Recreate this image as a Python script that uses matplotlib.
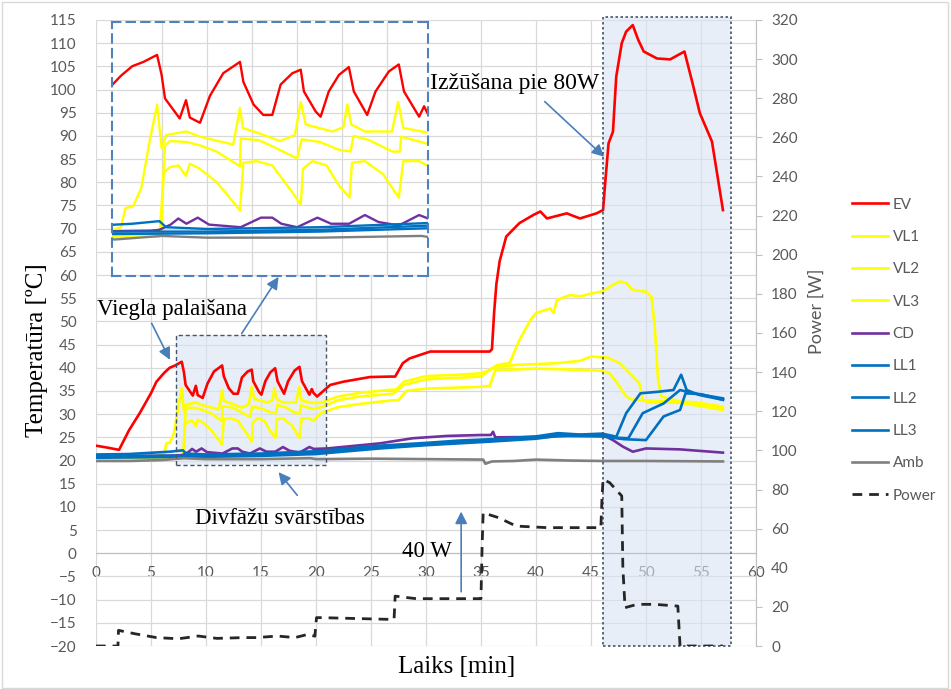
import matplotlib
matplotlib.use("Agg")
import matplotlib.pyplot as plt
from matplotlib.patches import Rectangle

# ---- values ----
ev_t = [0, 1, 2.1, 3, 4, 5, 5.5, 6.2, 6.7, 7.2, 7.8, 8.0, 8.15, 8.8, 9.08, 9.25, 9.7, 10.14, 10.73,
        11.47, 11.62, 12.07, 12.5, 12.9, 13.27, 13.79, 14.16, 14.3, 14.82, 15.04, 15.4, 15.85, 16.29,
        16.51, 17.1, 17.47, 18.06, 18.5, 18.73, 19.4, 19.62, 19.77, 20.1, 21.3, 22.5, 24.9, 26.7, 27.2,
        27.9, 28.5, 29.5, 30.4, 31.9, 35.8, 36.0, 36.2, 36.4, 36.7, 37.3, 38.5, 39.8, 40.4, 41.0, 42.8,
        44.0, 45.5, 46.1, 46.3, 46.6, 47.0, 47.3, 47.8, 48.2, 48.8, 49.3, 49.8, 51.0, 52.2, 53.5, 54.2,
        54.9, 56.0, 57.0]
ev_v = [23.2, 22.8, 22.3, 26.5, 30.3, 34.5, 37.0, 38.9, 40.0, 40.5, 41.3, 39.0, 36.3, 34.0, 36.1, 34.1,
        33.5, 36.6, 39.2, 40.5, 38.2, 35.6, 34.4, 34.4, 37.9, 39.2, 39.6, 37.1, 34.8, 34.2, 37.1, 39.0,
        39.9, 37.1, 34.4, 37.1, 39.4, 40.2, 37.1, 34.2, 35.4, 34.6, 33.8, 36.3, 37.0, 38.0, 38.1, 38.1,
        41.0, 42.0, 42.8, 43.5, 43.5, 43.5, 44.0, 52.0, 58.0, 63.0, 68.3, 71.2, 73.0, 73.7, 72.2, 73.3,
        72.2, 73.3, 74.0, 80.0, 88.4, 90.9, 102.8, 110.0, 112.5, 113.9, 110.7, 108.2, 106.7, 106.5,
        108.2, 101.7, 94.9, 88.8, 74.0]

vl1_t = [0, 3, 5.5, 6.2, 6.4, 6.74, 7.1, 7.47, 7.8, 8.0, 8.2, 9.1, 9.7, 11.17, 11.47, 11.6, 12.3, 13.25,
         13.9, 14.16, 14.38, 15.56, 16.05, 16.22, 16.4, 17.0, 18.2, 18.47, 18.7, 19.74, 20.5, 22, 24,
         26.5, 27.3, 28, 30, 33, 35, 35.8, 36.5, 37.0, 37.6, 38.5, 39.5, 40.0, 41.3, 41.6, 41.9, 43.1,
         44.0, 45.2, 46.1, 47.0, 47.6, 48.2, 48.8, 50.0, 50.5, 50.8, 51.1, 51.4, 53.1, 54.7, 57.0]
vl1_v = [20.5, 20.6, 20.9, 21.5, 23.7, 23.9, 26.0, 31.4, 35.6, 30.6, 32.1, 32.5, 31.9, 31.0, 35.2, 32.9,
         32.3, 31.4, 32.1, 35.9, 33.3, 32.5, 33.0, 35.6, 33.3, 32.5, 32.5, 35.9, 32.9, 32.4, 32.5, 33.8,
         34.6, 35.2, 35.3, 37.0, 38.2, 38.5, 38.8, 39.5, 40.6, 40.8, 41.0, 46.0, 50.3, 51.8, 52.8, 51.8,
         54.6, 55.7, 55.4, 56.1, 56.5, 57.9, 58.6, 58.3, 56.8, 56.4, 55.3, 48.9, 37.4, 33.8, 32.7, 32.5,
         31.6]

vl2_t = [0, 4, 7.9, 8.0, 8.15, 8.37, 9.1, 9.7, 10.43, 11.47, 11.5, 12.3, 12.9, 14.0, 14.2, 15.0, 15.85,
         16.36, 16.5, 17.2, 18.2, 18.55, 18.6, 19.2, 19.74, 20.5, 22, 24, 27, 28, 30, 35, 36, 38, 42,
         44, 45, 46.5, 47.6, 48.8, 49.4, 49.7, 50.2, 53, 57]
vl2_v = [20.3, 20.4, 20.6, 24.0, 30.9, 31.4, 31.3, 30.9, 30.2, 28.5, 31.7, 31.5, 30.8, 29.4, 31.6, 31.3,
         30.4, 30.2, 32.0, 31.5, 30.2, 30.2, 31.9, 31.5, 31.1, 31.5, 33.0, 33.8, 34.4, 36.3, 37.5, 38.1,
         39.9, 40.6, 41.0, 41.5, 42.4, 42.2, 41.0, 38.1, 36.7, 33.1, 32.5, 32.5, 30.9]

vl3_t = [0, 4, 7.9, 8.0, 8.09, 8.37, 8.74, 9.08, 9.25, 9.7, 10.43, 11.17, 11.47, 11.62, 12.2, 12.9, 13.79,
         14.16, 14.26, 14.67, 15.3, 15.85, 16.32, 16.43, 17.0, 17.8, 18.5, 18.7, 19.4, 19.74, 20.5, 22,
         24, 27, 27.5, 28.2, 30, 35, 35.8, 36.3, 40, 45, 46.1, 46.7, 47.3, 48.2, 48.8, 53, 57]
vl3_v = [20.2, 20.3, 20.4, 21.5, 27.8, 28.4, 28.6, 27.4, 28.8, 28.2, 26.7, 24.4, 23.4, 28.9, 29.1, 28.6,
         25.5, 24.1, 28.2, 29.1, 28.6, 26.3, 24.9, 28.9, 29.1, 27.6, 24.9, 29.1, 29.1, 28.6, 30.3, 31.5,
         32.2, 33.0, 33.0, 35.0, 35.5, 35.9, 36.1, 39.5, 39.8, 39.5, 39.3, 38.8, 37.0, 33.8, 33.1, 32.6,
         31.2]

cd_t = [0, 5, 7.5, 7.9, 8.4, 8.74, 9.1, 9.6, 10.1, 11.5, 12.4, 12.9, 13.3, 14.0, 14.9, 15.5, 16.3, 17.0,
        17.6, 18.5, 19.4, 19.8, 21, 25.8, 28.8, 31.9, 35.0, 35.9, 36.1, 36.3, 41, 44, 46.1, 47.0, 47.9,
        48.8, 50.0, 53.1, 57]
cd_v = [21.0, 21.0, 21.1, 21.2, 21.8, 22.5, 21.9, 22.6, 21.8, 21.5, 22.6, 22.6, 21.9, 21.5, 22.6, 21.9,
        21.9, 22.9, 22.1, 21.7, 22.9, 22.5, 22.6, 23.7, 24.8, 25.3, 25.5, 25.5, 26.2, 25.0, 25.1, 25.5,
        25.5, 24.4, 23.0, 21.9, 22.6, 22.4, 21.7]

ll1_t = [0, 3, 6.7, 7.9, 8.2, 10, 15, 20, 25.8, 30, 33, 36, 40, 42, 44, 46, 47.0, 47.3, 48.2, 49.5, 51.0,
         52.5, 53.2, 53.7, 54.9, 57]
ll1_v = [21.3, 21.4, 21.9, 22.2, 21.5, 21.3, 21.5, 22.0, 23.2, 23.8, 24.3, 24.6, 25.2, 25.9, 25.6, 25.8,
         25.3, 25.1, 30.2, 34.5, 34.8, 35.2, 38.5, 35.2, 34.1, 33.1]

ll2_t = [0, 5, 10, 15, 20, 25.8, 30, 36, 40, 42, 46, 47.5, 48.4, 49.7, 51.6, 53.1, 54.3, 57]
ll2_v = [20.9, 21.0, 21.0, 21.2, 21.7, 22.9, 23.6, 24.3, 25.0, 25.5, 25.3, 24.9, 24.8, 30.2, 32.3, 35.2,
         34.5, 33.4]

ll3_t = [0, 5, 10, 15, 20, 25.8, 30, 36, 40, 42, 46, 48, 50.0, 51.6, 53.1, 53.6, 55, 57]
ll3_v = [20.6, 20.7, 20.8, 21.0, 21.4, 22.6, 23.3, 24.1, 24.7, 25.3, 25.2, 24.6, 24.4, 29.5, 30.9, 34.5,
         34.3, 33.1]

amb_t = [0, 3, 6, 8, 10, 15, 19.5, 20, 25, 30, 35.2, 35.4, 36, 38, 40, 43, 46, 50, 57]
amb_v = [19.9, 19.9, 20.1, 20.5, 20.3, 20.3, 20.5, 20.3, 20.4, 20.3, 20.2, 19.3, 19.8, 19.9, 20.2, 20.0,
         19.9, 19.9, 19.8]

pw_t = [0, 2.0, 2.05, 3.5, 5.5, 7.5, 9.3, 11, 13.4, 14.6, 16.5, 18.1, 19.3, 19.9, 20.05, 20.5, 26.8,
        27.1, 27.2, 29.1, 35.0, 35.1, 35.2, 36.6, 38.2, 41, 45.9, 46.0, 46.1, 46.7, 47.8, 47.9, 48.1,
        49.2, 50.8, 52.9, 53.0, 53.1, 57.0]
pw_v = [0, 0, 8.0, 6.3, 4.3, 3.7, 5.1, 3.9, 4.3, 4.3, 5.1, 4.3, 6.0, 5.0, 14.5, 14.5, 13.6, 13.6, 25.5,
        24.2, 24.2, 50, 68.1, 65.6, 61.3, 60.5, 60.5, 75, 85.2, 83.5, 76.7, 40, 19.6, 21.3, 21.3, 20.4,
        10, 0, 0]

temp_series = [
    ("EV", ev_t, ev_v, "#ff0000"),
    ("VL1", vl1_t, vl1_v, "#ffff00"),
    ("VL2", vl2_t, vl2_v, "#ffff00"),
    ("VL3", vl3_t, vl3_v, "#ffff00"),
    ("CD", cd_t, cd_v, "#7030a0"),
    ("LL1", ll1_t, ll1_v, "#0070c0"),
    ("LL2", ll2_t, ll2_v, "#0070c0"),
    ("LL3", ll3_t, ll3_v, "#0070c0"),
    ("Amb", amb_t, amb_v, "#808080"),
]

plt.rcParams['font.family'] = ['Lato', 'DejaVu Sans']
SERIF = ['Liberation Serif', 'DejaVu Serif']
GRID = '#d9d9d9'
TXT = '#595959'
ARROW = '#4a7ebb'

fig = plt.figure(figsize=(9.51, 6.89), dpi=100)
ax = fig.add_axes([0.1009, 0.0624, 0.694, 0.9086])
ax2 = ax.twinx()

ax.set_xlim(0, 60)
ax.set_ylim(-20, 115)
ax.set_xticks(range(0, 61, 5))
ax.set_yticks(range(-20, 116, 5))
ax.set_axisbelow(True)
ax.grid(True, color=GRID, lw=0.9)
for s in ['top', 'right', 'left']:
    ax.spines[s].set_visible(False)
ax.spines['bottom'].set_position(('data', 0))
ax.spines['bottom'].set_color('#bfbfbf')
ax.tick_params(axis='both', length=0, labelcolor=TXT, labelsize=11)
ax.tick_params(axis='x', pad=9)
ax.tick_params(axis='y', pad=14)

ax2.set_ylim(0, 320)
ax2.set_yticks(range(0, 321, 20))
for s in ['top', 'left', 'bottom']:
    ax2.spines[s].set_visible(False)
ax2.spines['right'].set_color('#bfbfbf')
ax2.tick_params(axis='y', length=4, color='#bfbfbf', labelcolor=TXT, labelsize=11, pad=7)
ax2.set_ylabel("Power [W]", color=TXT, fontsize=13)
ax2.yaxis.set_label_coords(1.08, 0.535)

# shaded regions
ax.add_patch(Rectangle((7.25, 19), 13.65, 28, facecolor='#dae3f3', alpha=0.6, edgecolor='none', zorder=1))
ax.add_patch(Rectangle((7.25, 19), 13.65, 28, fill=False, edgecolor='#44546a', lw=1.0,
                       ls=(0, (3, 2)), zorder=6))
ax.add_patch(Rectangle((46.1, -20), 11.6, 135.7, facecolor='#dae3f3', alpha=0.6, edgecolor='none',
                       zorder=1, clip_on=False))
ax.add_patch(Rectangle((46.1, -20), 11.6, 135.7, fill=False, edgecolor='#44546a', lw=1.2,
                       ls=(0, (1.5, 1.5)), zorder=6, clip_on=False))

handles = []
for name, t, v, c in temp_series:
    ln, = ax.plot(t, v, color=c, lw=1.9, label=name, zorder=3)
    handles.append(ln)
pw, = ax2.plot(pw_t, pw_v, color='#262626', lw=2.0, dashes=(3.5, 2.5), label="Power")
handles.append(pw)

# zoomed inset of the oscillation window
iax = ax.inset_axes([1.45, 59.8, 28.75, 54.8], transform=ax.transData)
iax.set_xlim(5.8, 19.8)
iax.set_ylim(15.9, 45.1)
iax.set_xticks(range(8, 19, 2))
iax.set_yticks([])
iax.tick_params(length=0, labelbottom=False)
iax.grid(True, axis='x', color=GRID, lw=0.9)
for lv in range(60, 115, 5):
    iax.plot([0, 60], [lv, lv], transform=ax.transData, color=GRID, lw=0.9, zorder=0.5)
for name, t, v, c in temp_series:
    iax.plot(t, v, color=c, lw=1.7)
for s in iax.spines.values():
    s.set_color('#4f81bd')
    s.set_linewidth(1.5)
    s.set_linestyle((0, (4, 3)))

# annotations
arrow = dict(arrowstyle='-|>', color=ARROW, lw=1.2, mutation_scale=18, shrinkA=0, shrinkB=0)
ax.text(30.4, 101.4, "Izžūšana pie 80W", family=SERIF, fontsize=17, va='center', ha='left')
ax.annotate("", xy=(46.2, 85.5), xytext=(40.8, 97.4), arrowprops=arrow)
ax.text(0.05, 52.5, "Viegla palaišana", family=SERIF, fontsize=16.5, va='center', ha='left')
ax.annotate("", xy=(6.73, 41.7), xytext=(5.06, 49.6), arrowprops=arrow)
ax.annotate("", xy=(16.6, 59.6), xytext=(13.25, 47.4), arrowprops=arrow)
ax.text(16.7, 7.6, "Divfāžu svārstības", family=SERIF, fontsize=16.5, va='center', ha='center')
ax.annotate("", xy=(16.6, 17.5), xytext=(18.3, 12.5), arrowprops=arrow)
ax.text(30.06, 0.3, "40 W", family=SERIF, fontsize=16.5, va='center', ha='center', zorder=4)
ax.annotate("", xy=(33.2, 9.0), xytext=(33.2, -8.3), arrowprops=arrow)

fig.text(36.7 / 951, 1 - 350 / 689, "Temperatūra [ºC]", family=SERIF, fontsize=18,
         rotation=90, va='center', ha='center')
fig.text(456.7 / 951, 1 - 666.7 / 689, "Laiks [min]", family=SERIF, fontsize=18,
         va='center', ha='center')

fig.legend(handles=handles, loc='upper left', bbox_to_anchor=(0.8959, 0.713), frameon=False,
           borderpad=0, borderaxespad=0, fontsize=11, labelspacing=1.2, handlelength=2.35,
           handletextpad=0.3, labelcolor=TXT)

fig.add_artist(Rectangle((0.002, 0.002), 0.995, 0.995, transform=fig.transFigure, fill=False,
                         edgecolor='#d9d9d9', lw=1))

fig.savefig("out.png", dpi=100)
